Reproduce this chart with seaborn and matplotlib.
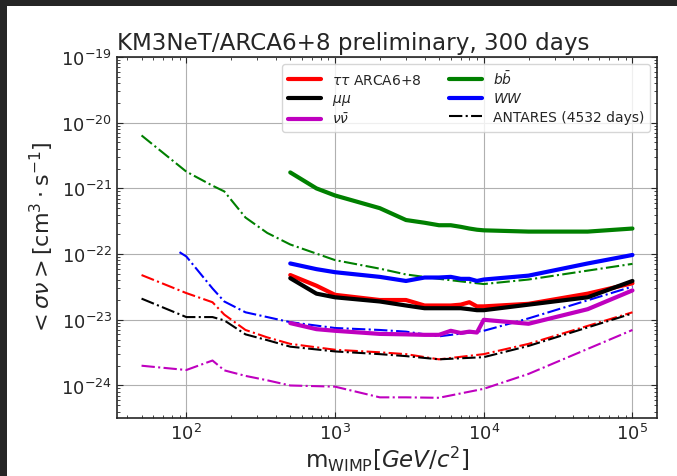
import numpy as np
import pandas as pd
import matplotlib
matplotlib.use('Agg')
import matplotlib.pyplot as plt
import seaborn as sns
from matplotlib.lines import Line2D
from matplotlib.patches import Rectangle

# ARCA6+8 limits (solid lines)
arca_mass = [500, 750, 1000, 2000, 3000, 4000, 5000, 6000, 7000, 8000, 9000,
             10000, 20000, 50000, 100000]
arca_tautau = [4.8e-23, 3.3e-23, 2.4e-23, 2.0e-23, 2.0e-23, 1.65e-23, 1.65e-23, 1.65e-23,
               1.7e-23, 1.85e-23, 1.6e-23, 1.6e-23, 1.75e-23, 2.5e-23, 3.6e-23]
arca_mumu = [4.3e-23, 2.5e-23, 2.2e-23, 1.9e-23, 1.65e-23, 1.5e-23, 1.5e-23, 1.5e-23,
             1.5e-23, 1.45e-23, 1.4e-23, 1.4e-23, 1.7e-23, 2.2e-23, 3.9e-23]
arca_nunu = [8.9e-24, 7.2e-24, 6.8e-24, 6.1e-24, 6.0e-24, 5.9e-24, 5.9e-24, 6.8e-24,
             6.3e-24, 6.6e-24, 6.4e-24, 1.0e-23, 8.7e-24, 1.45e-23, 2.8e-23]
arca_bb = [1.75e-21, 1.0e-21, 7.8e-22, 5.0e-22, 3.3e-22, 3.0e-22, 2.75e-22, 2.75e-22,
           2.6e-22, 2.45e-22, 2.35e-22, 2.3e-22, 2.2e-22, 2.2e-22, 2.45e-22]
arca_ww = [7.2e-23, 5.9e-23, 5.3e-23, 4.5e-23, 3.9e-23, 4.4e-23, 4.4e-23, 4.5e-23,
           4.2e-23, 4.2e-23, 3.9e-23, 4.1e-23, 4.7e-23, 7.2e-23, 9.7e-23]

# ANTARES 4532 days (dash-dot lines)
ant_mass = [50, 100, 150, 180, 250, 350, 500, 1000, 2000, 3000, 5000, 10000, 20000, 100000]
ant_tautau = [4.8e-23, 2.55e-23, 1.85e-23, 1.2e-23, 7.0e-24, 5.4e-24, 4.3e-24, 3.5e-24,
              3.2e-24, 3.0e-24, 2.5e-24, 3.0e-24, 4.3e-24, 1.3e-23]
ant_mumu = [2.1e-23, 1.1e-23, 1.1e-23, 9.8e-24, 6.0e-24, 4.9e-24, 3.9e-24, 3.3e-24,
            3.0e-24, 2.8e-24, 2.5e-24, 2.7e-24, 4.0e-24, 1.25e-23]
ant_nunu = [2.0e-24, 1.72e-24, 2.4e-24, 1.7e-24, 1.4e-24, 1.2e-24, 1.0e-24, 9.6e-25,
            6.6e-25, 6.6e-25, 6.5e-25, 8.9e-25, 1.5e-24, 7.0e-24]
ant_bb = [6.4e-21, 1.8e-21, 1.1e-21, 9.0e-22, 3.6e-22, 2.1e-22, 1.4e-22, 8.1e-23,
          6.0e-23, 4.9e-23, 4.2e-23, 3.5e-23, 4.1e-23, 7.1e-23]
ant_ww_mass = [90, 100, 150, 180, 250, 350, 500, 1000, 2000, 3000, 5000, 10000, 20000, 100000]
ant_ww = [1.07e-22, 9.2e-23, 3.0e-23, 1.9e-23, 1.3e-23, 1.1e-23, 9.2e-24, 7.5e-24,
          7.0e-24, 6.6e-24, 5.6e-24, 6.8e-24, 1.05e-23, 3.2e-23]

channels = ['tautau', 'mumu', 'nunu', 'bb', 'WW']
labels = [r'$\tau\tau$ ARCA6+8', r'$\mu\mu$', r'$\nu\bar{\nu}$', r'$b\bar{b}$', r'$WW$']
colors = {'tautau': 'red', 'mumu': 'black', 'nunu': 'm', 'bb': 'g', 'WW': 'b'}

arca_vals = [arca_tautau, arca_mumu, arca_nunu, arca_bb, arca_ww]
ant_vals = [(ant_mass, ant_tautau), (ant_mass, ant_mumu), (ant_mass, ant_nunu),
            (ant_mass, ant_bb), (ant_ww_mass, ant_ww)]

arca_df = pd.concat([pd.DataFrame({'mass': arca_mass, 'sigma': v, 'channel': c})
                     for c, v in zip(channels, arca_vals)], ignore_index=True)
ant_df = pd.concat([pd.DataFrame({'mass': m, 'sigma': v, 'channel': c})
                    for c, (m, v) in zip(channels, ant_vals)], ignore_index=True)

sns.set_style('ticks', {'xtick.direction': 'in', 'ytick.direction': 'in'})
plt.rcParams['font.family'] = ['DejaVu Sans']
plt.rcParams['mathtext.fontset'] = 'dejavusans'

fig = plt.figure(figsize=(6.77, 4.77), dpi=100, facecolor='white')
# dark screenshot frame on the top and left edges
for xy, w, h in [((0, 0), 7 / 677, 1), ((0, 1 - 7 / 477), 1, 7 / 477)]:
    fig.add_artist(Rectangle(xy, w, h, transform=fig.transFigure,
                             facecolor='#262626', edgecolor='none'))
ax = fig.add_axes([117 / 677, 1 - 419 / 477, 540 / 677, 361 / 477])

sns.lineplot(data=ant_df, x='mass', y='sigma', hue='channel', palette=colors,
             linestyle='-.', lw=1.5, estimator=None, sort=False, legend=False, ax=ax)
sns.lineplot(data=arca_df, x='mass', y='sigma', hue='channel', palette=colors,
             lw=3, estimator=None, sort=False, legend=False, ax=ax)

ax.set(xscale='log', yscale='log')
ax.set_ylim(3.2e-25, 1e-19)
ax.grid(True, which='major', color='#b0b0b0', lw=0.8)
ax.tick_params(which='both', direction='in', top=True, right=True, labelsize=13)
ax.tick_params(which='major', length=4.5)
ax.tick_params(which='minor', length=2.2)
for s in ax.spines.values():
    s.set_linewidth(1.2)

ax.set_title('KM3NeT/ARCA6+8 preliminary, 300 days', loc='left', fontsize=16.6, pad=6)
ax.set_xlabel(r'$\mathrm{m_{WIMP}}[GeV/c^2]$', fontsize=16.5, labelpad=1)
ax.set_ylabel(r'$<\sigma\nu>[\mathrm{cm}^3\cdot\mathrm{s}^{-1}]$', fontsize=16)

handles = [Line2D([], [], color=colors[c], lw=3) for c in channels]
handles.append(Line2D([], [], color='black', lw=1.5, linestyle='-.'))
ax.legend(handles, labels + ['ANTARES (4532 days)'], loc='upper right', ncol=2,
          fontsize=10, handlelength=2.4, columnspacing=1.9, labelspacing=0.3)

fig.savefig('out.png', dpi=100)
